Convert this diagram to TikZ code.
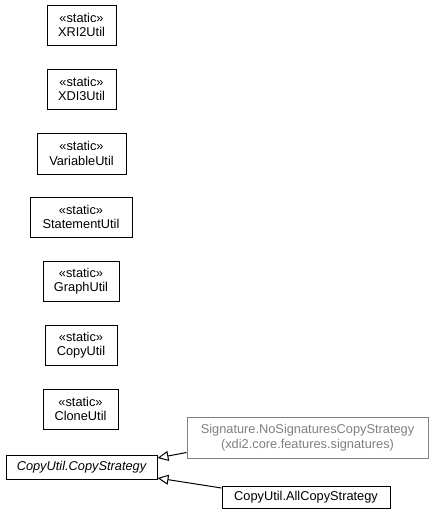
\documentclass[tikz,border=0pt]{standalone}
\usepackage{fontspec}
\setmainfont{Liberation Sans}
\usetikzlibrary{arrows.meta}
\definecolor{grayc}{HTML}{808080}
\begin{document}
\begin{tikzpicture}[x=1pt,y=-1pt,
  cls/.style={draw=black, line width=1pt, rectangle, inner sep=0pt, align=center,
    font=\fontsize{12.8}{14.5}\selectfont, fill=white},
  ext/.style={cls, draw=grayc, text=grayc},
  gen/.style={line width=1pt, -{Triangle[open,length=11pt,width=10pt]}}]
\useasboundingbox (0,0) rectangle (432,512);
\node[cls, minimum width=69pt, minimum height=40pt] (xri) at (81.5,25) {«static»\\XRI2Util};
\node[cls, minimum width=69pt, minimum height=40pt] (xdi) at (81.5,89) {«static»\\XDI3Util};
\node[cls, minimum width=89pt, minimum height=41pt] (var) at (81.5,153.5) {«static»\\VariableUtil};
\node[cls, minimum width=102pt, minimum height=40pt] (stm) at (81,217) {«static»\\StatementUtil};
\node[cls, minimum width=76pt, minimum height=40pt] (grp) at (81,281) {«static»\\GraphUtil};
\node[cls, minimum width=72pt, minimum height=40pt] (cpy) at (81,345) {«static»\\CopyUtil};
\node[cls, minimum width=75pt, minimum height=40pt] (cln) at (80.5,409) {«static»\\CloneUtil};
\node[cls, minimum width=151pt, minimum height=24pt] (cs) at (81.5,467) {\itshape CopyUtil.CopyStrategy};
\node[ext, minimum width=241pt, minimum height=41pt] (sig) at (307.5,437.5) {Signature.NoSignaturesCopyStrategy\\(xdi2.core.features.signatures)};
\node[cls, minimum width=168pt, minimum height=22pt] (all) at (306,497) {CopyUtil.AllCopyStrategy};
\draw[gen] ([yshift=-15pt]sig.west) -- ([yshift=9pt]cs.east);
\draw[gen] ([yshift=9pt]all.west) -- ([yshift=-11pt]cs.east);
\end{tikzpicture}
\end{document}
